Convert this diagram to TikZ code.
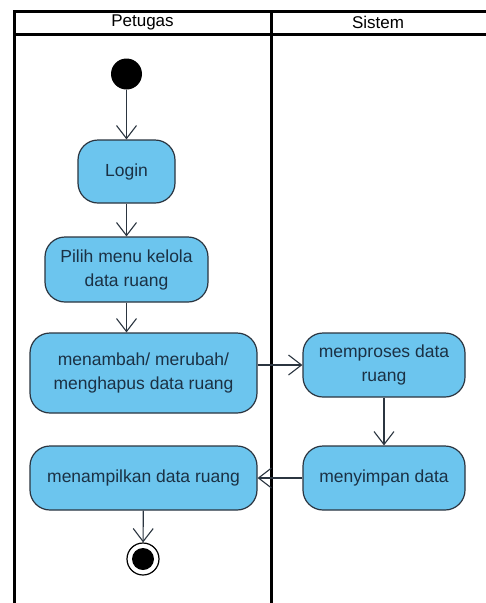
\documentclass[tikz,border=0pt]{standalone}
\usepackage{fontspec}
\setmainfont{Liberation Sans}
\usetikzlibrary{arrows.meta}
\definecolor{actfill}{HTML}{6CC5EE}
\definecolor{actline}{HTML}{2B3540}
\definecolor{acttext}{HTML}{1B3144}
\begin{document}
\begin{tikzpicture}[x=1pt,y=-1pt,
  action/.style={draw=actline, line width=1.2pt, fill=actfill, rounded corners=20pt,
    align=center, text=acttext, font=\fontsize{17.5}{24}\selectfont, inner sep=0pt},
  flow/.style={draw=actline, line width=1.1pt,
    -{Straight Barb[length=13pt,width=20pt,line width=1.1pt]}},
  lane/.style={line width=3pt, draw=black},
  lanetitle/.style={font=\fontsize{17}{18}\selectfont, text=black}]
\useasboundingbox (0,0) rectangle (486,603);
\clip (0,0) rectangle (486,603);
\fill[white] (0,0) rectangle (486,603);

% swimlane frame
\draw[lane] (14,620) -- (14,11) -- (500,11);
\draw[lane] (14,34) -- (500,34);
\draw[lane] (271,11) -- (271,620);
\node[lanetitle] (petugas) at (142.5,22.5) {Petugas};
\node[lanetitle] (sistem) at (378,22.5) {Sistem};

% start and end
\node[circle, fill=black, minimum size=31pt, inner sep=0pt] (init) at (126.5,74) {};
\node[circle, draw=black, line width=1.2pt, fill=white, minimum size=32pt, inner sep=0pt] (final) at (143,559) {};
\node[circle, fill=black, minimum size=22pt, inner sep=0pt] (finaldot) at (143,559) {};

% actions
\node[action, minimum width=97pt, minimum height=63pt] (login) at (126.5,171.5) {Login};
\node[action, minimum width=163pt, minimum height=65pt] (pilih) at (126.5,269.5) {Pilih menu kelola\\data ruang};
\node[action, minimum width=227pt, minimum height=80pt] (menambah) at (143.5,373) {menambah/ merubah/\\menghapus data ruang};
\node[action, minimum width=162pt, minimum height=64pt] (memproses) at (384,365) {memproses data\\ruang};
\node[action, minimum width=162pt, minimum height=64pt] (menyimpan) at (384,478) {menyimpan data};
\node[action, minimum width=227pt, minimum height=64pt] (menampilkan) at (143.5,478) {menampilkan data ruang};

% control flows
\draw[flow] (init) -- (login);
\draw[flow] (login) -- (pilih);
\draw[flow] (pilih) -- (pilih.south |- menambah.north);
\draw[flow] (memproses.west -| menambah.east) -- (memproses.west);
\draw[flow] (memproses) -- (menyimpan);
\draw[flow] (menyimpan.west) -- (menampilkan.east);
\draw[flow] (menampilkan) -- (final);
\end{tikzpicture}
\end{document}
